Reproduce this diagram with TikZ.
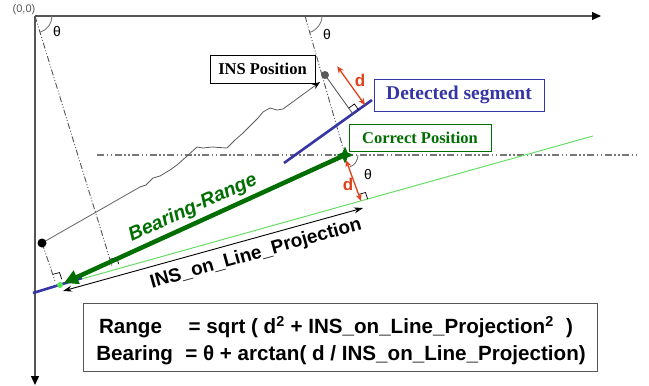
\documentclass[tikz,border=0pt]{standalone}
\usepackage{fontspec}
\setmainfont{Liberation Serif}
\setsansfont{Liberation Sans}
\usetikzlibrary{arrows.meta,calc,shapes.geometric}
\definecolor{axisgray}{HTML}{555555}
\definecolor{dred}{HTML}{E0401A}
\definecolor{dblue}{HTML}{3535A5}
\definecolor{dgreen}{HTML}{006E00}
\definecolor{lgreen}{HTML}{66DD66}
\definecolor{pathgray}{HTML}{5A5A5A}
\tikzset{
  axisline/.style={draw=axisgray, line width=1.4pt, -{Triangle[length=9pt,width=8pt,color=black]}},
  ddline/.style={draw=axisgray, line width=0.9pt, dash pattern=on 6pt off 2pt on 1pt off 2pt on 1pt off 2pt},
  hddline/.style={draw=axisgray!80, line width=1.6pt, dash pattern=on 7pt off 2.5pt on 1.5pt off 2.5pt on 1.5pt off 2.5pt},
  ramark/.style={draw=black, line width=0.7pt},
  dimred/.style={draw=dred, line width=1.3pt, {Stealth[length=7pt,width=6pt]}-{Stealth[length=7pt,width=6pt]}},
  tharc/.style={draw=axisgray!80, line width=0.9pt},
  thlabel/.style={font=\sffamily\fontsize{14}{16}\selectfont},
  dlabel/.style={text=dred, font=\sffamily\bfseries\fontsize{17}{19}\selectfont},
  labbox/.style={draw, line width=1pt, inner sep=0pt, font=\rmfamily\bfseries},
  formula/.style={font=\sffamily\bfseries\fontsize{20.6}{22}\selectfont},
}
\begin{document}
\begin{tikzpicture}[x=1pt,y=-1pt]
\useasboundingbox (0,0) rectangle (649,386);
% key coordinates
\coordinate (O) at (35,16);
\coordinate (XA) at (601,16);
\coordinate (YA) at (35,385);
\coordinate (Ctop) at (305,16);
\coordinate (INS) at (325,75);
\coordinate (CP) at (345,155);
\coordinate (BD) at (42,243);
\coordinate (S1) at (284,163);
\coordinate (S2) at (372,100);
\coordinate (F1) at (352.8,113.8);
\coordinate (R1a) at (337.2,66.3);
\coordinate (R1b) at (365,105);
\coordinate (G1) at (60,285);
\coordinate (G2) at (593,136);
\coordinate (F4) at (361,201);
\coordinate (R2a) at (346,160);
\coordinate (TP) at (64,283);
\coordinate (P1) at (63,291);
\coordinate (P2) at (363,208);
\coordinate (B1) at (33,293);
\coordinate (B2) at (82,278);
\coordinate (F2) at (112,266);
\coordinate (F3) at (55,281);
\coordinate (H1) at (97,155);
\coordinate (H2) at (638,155);

% axes
\draw[axisline] (O) -- (XA);
\draw[axisline] (O) -- (YA);
\node[font=\sffamily\fontsize{11}{12}\selectfont, text=axisgray] (orig) at (24,10) {(0,0)};

% dash-dot construction lines
\draw[ddline] (O) -- (F2);
\draw[ddline] (BD) -- (F3);
\draw[ddline] (Ctop) -- (CP);
\draw[hddline] (H1) -- (H2);

% theta arcs
\draw[tharc] ($(O)+(17pt,0)$) arc[start angle=0,end angle=-72.5,radius=17pt];
\draw[tharc] ($(Ctop)+(17pt,0)$) arc[start angle=0,end angle=-74,radius=17pt];
\draw[tharc] ($(CP)+(13pt,0)$) arc[start angle=0,end angle=-70,radius=13pt];
\node[thlabel] (th1) at (57,31) {θ};
\node[thlabel] (th2) at (327,34) {θ};
\node[thlabel] (th3) at (368,174) {θ};

% thin green line and lower blue segment
\draw[lgreen, line width=1pt] (G1) -- (G2);
\draw[dblue, line width=2.6pt] (B1) -- (B2);

% detected segment
\draw[dblue, line width=2.6pt] (S1) -- (S2);

% trajectory
\draw[pathgray, line width=0.8pt, -{Stealth[length=8pt,width=6pt,color=black]}]
  (BD) -- (140,187) -- (146,185) -- (153,178) -- (160,176) -- (170,170) -- (177,165)
  -- (186,157) -- (197,147) -- (203,148) -- (212,147) -- (227,148) -- (235,140)
  -- (243,133) -- (250,126) -- (258,118) -- (263,112) -- (270,108) -- (277,110)
  -- (283,109) -- (320,82);

% INS perpendicular
\draw[pathgray, line width=0.9pt] (INS) -- (F1);
\draw[ramark] ($(F1)!7pt!(S2)$) -- ($($(F1)!7pt!(S2)$)+($(F1)!7pt!(INS)$)-(F1)$) -- ($(F1)!7pt!(INS)$);

% right-angle markers bottom
\draw[ramark] ($(F4)!7pt!(G2)$) -- ($($(F4)!7pt!(G2)$)+($(F4)!7pt!(CP)$)-(F4)$) -- ($(F4)!7pt!(CP)$);
\draw[ramark] ($(F2)!7pt!(G2)$) -- ($($(F2)!7pt!(G2)$)+($(F2)!7pt!(O)$)-(F2)$) -- ($(F2)!7pt!(O)$);
\draw[ramark] ($(F3)!7pt!(G2)$) -- ($($(F3)!7pt!(G2)$)+($(F3)!7pt!(BD)$)-(F3)$) -- ($(F3)!7pt!(BD)$);

% red distance arrows
\draw[dimred] (R1a) -- (R1b);
\draw[dimred] (R2a) -- (F4);
\node[dlabel] (d1) at (360,80) {d};
\node[dlabel] (d2) at (348,184) {d};

% bearing-range thick arrow
\draw[dgreen, line width=4.5pt, -{Triangle[length=14pt,width=14pt]}] (CP) -- (TP);
\node[text=dgreen, rotate=24.5, font=\sffamily\bfseries\itshape\fontsize{19.5}{21}\selectfont] (br) at (193,208) {Bearing-Range};

% projection double arrow
\draw[black, line width=0.9pt, {Stealth[length=9pt,width=6pt]}-{Stealth[length=9pt,width=6pt]}] (P1) -- (P2);
\node[rotate=15.6, font=\sffamily\bfseries\fontsize{19}{21}\selectfont] (proj) at (256,254) {INS\_on\_Line\_Projection};

% points
\fill[pathgray] (INS) circle (4pt);
\fill[black] (BD) circle (4.5pt);
\fill[lgreen!80!green] (G1) circle (3pt);
\node[star, star points=4, star point ratio=2.4, fill=dgreen, minimum size=17pt, inner sep=0pt] (cpstar) at (CP) {};

% label boxes
\node[labbox, draw=black, fill=white, minimum width=105pt, minimum height=28pt, font=\rmfamily\bfseries\fontsize{16.5}{18}\selectfont] (insbox) at (262.5,69) {INS Position};
\node[labbox, draw=dblue, fill=white, text=dblue, minimum width=170pt, minimum height=32pt, font=\rmfamily\bfseries\fontsize{19.5}{21}\selectfont] (detbox) at (459,95) {Detected segment};
\node[labbox, draw=dgreen, fill=white, text=dgreen, minimum width=142pt, minimum height=27pt, font=\rmfamily\bfseries\fontsize{16.5}{18}\selectfont] (cpbox) at (420,137.5) {Correct Position};

% formula box
\node[draw=axisgray, line width=1pt, minimum width=514pt, minimum height=68pt, inner sep=0pt] (fbox) at (340,337) {};
\node[formula] (f1) at (336,327) {Range\hspace{1.3em}= sqrt ( d\textsuperscript{2} + INS\_on\_Line\_Projection\textsuperscript{2}\hspace{0.6em})};
\node[formula] (f2) at (341,355) {Bearing\hspace{0.6em}= θ + arctan( d / INS\_on\_Line\_Projection)};
\end{tikzpicture}
\end{document}
